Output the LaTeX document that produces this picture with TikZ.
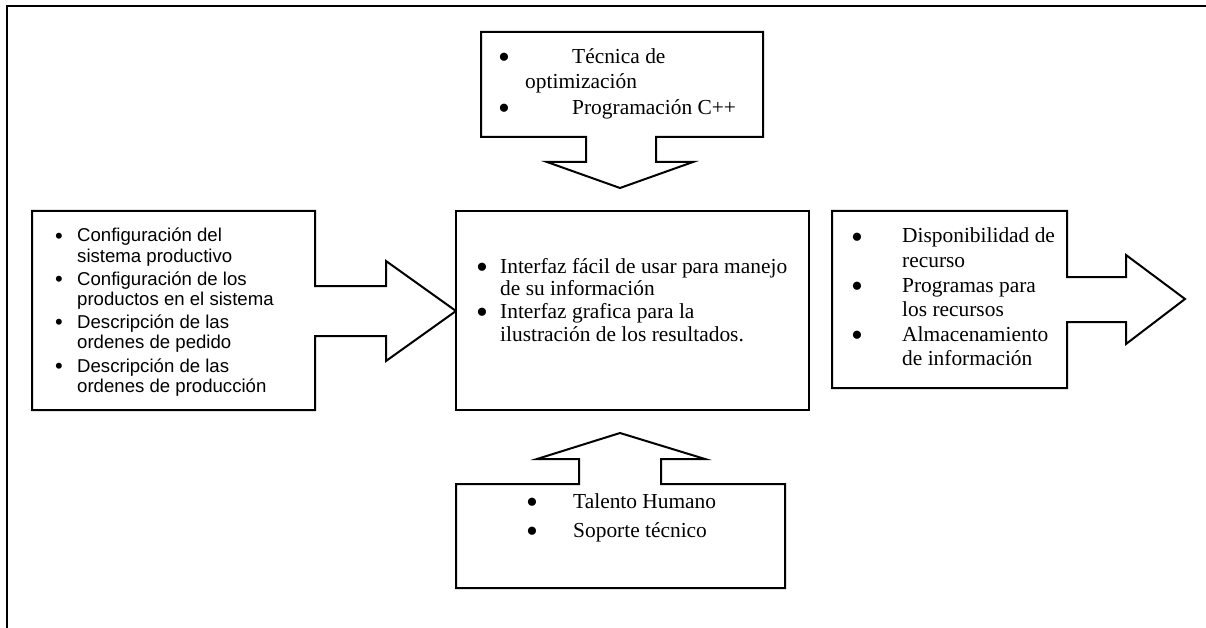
\documentclass[tikz,border=0pt]{standalone}
\usepackage{fontspec}
\setmainfont{Liberation Serif}
\newfontfamily\arialf{Liberation Sans}
\begin{document}
\begin{tikzpicture}[x=1pt,y=-1pt,
  blockshape/.style={draw=black,line width=2pt,line join=miter,fill=white},
  tm/.style={anchor=base west,inner sep=0pt,font=\fontsize{21.4}{24}\selectfont},
  ar/.style={anchor=base west,inner sep=0pt,font=\arialf\fontsize{18.6}{21}\selectfont},
  tmb/.style={anchor=base west,inner sep=0pt,font=\fontsize{34}{34}\selectfont,yshift=-5pt},
  arb/.style={anchor=base west,inner sep=0pt,font=\arialf\fontsize{22}{22}\selectfont,yshift=-1.5pt}]
\useasboundingbox (0,0) rectangle (1206,628);
% outer frame
\draw[line width=2.8pt] (7,629) -- (7,6) -- (1206,6);
% top box with down arrow
\draw[blockshape] (481,32) -- (763,32) -- (763,137) -- (656,137) -- (656,162) -- (693,162)
  -- (620,188) -- (547,162) -- (586,162) -- (586,137) -- (481,137) -- cycle;
% left box with right arrow
\draw[blockshape] (32,211) -- (315,211) -- (315,286) -- (386,286) -- (386,261) -- (456,311)
  -- (386,361) -- (386,336) -- (315,336) -- (315,410) -- (32,410) -- cycle;
% center box
\draw[blockshape] (456,211) rectangle (809,410);
% right box with right arrow
\draw[blockshape] (832,211) -- (1067,211) -- (1067,277) -- (1126,277) -- (1126,255) -- (1185,299)
  -- (1126,344) -- (1126,322) -- (1067,322) -- (1067,388) -- (832,388) -- cycle;
% bottom box with up arrow
\draw[blockshape] (456,484) -- (579,484) -- (579,459) -- (537,459) -- (620,433) -- (705,459)
  -- (661,459) -- (661,484) -- (785,484) -- (785,588) -- (456,588) -- cycle;
% top texts
\node[tmb] (tb1) at (498,64) {•};
\node[tm] (tt1) at (572,64) {Técnica de};
\node[tm] (tt2) at (525,88.5) {optimización};
\node[tmb] (tb2) at (498,115) {•};
\node[tm] (tt3) at (572,115) {Programación C++};
% left texts
\node[arb] (lb1) at (55,242) {•};
\node[ar] (lt1) at (77,242) {Configuración del};
\node[ar] (lt2) at (77,262) {sistema productivo};
\node[arb] (lb2) at (55,285) {•};
\node[ar] (lt3) at (77,285) {Configuración de los};
\node[ar] (lt4) at (77,305) {productos en el sistema};
\node[arb] (lb3) at (55,328) {•};
\node[ar] (lt5) at (77,328) {Descripción de las};
\node[ar] (lt6) at (77,348) {ordenes de pedido};
\node[arb] (lb4) at (55,372) {•};
\node[ar] (lt7) at (77,372) {Descripción de las};
\node[ar] (lt8) at (77,392) {ordenes de producción};
% center texts
\node[tmb] (cb1) at (476,273) {•};
\node[tm] (ct1) at (500,273) {Interfaz fácil de usar para manejo};
\node[tm] (ct2) at (500,295.5) {de su información};
\node[tmb] (cb2) at (476,318) {•};
\node[tm] (ct3) at (500,318) {Interfaz grafica para la};
\node[tm] (ct4) at (500,341) {ilustración de los resultados.};
% right texts
\node[tmb] (rb1) at (851,243) {•};
\node[tm] (rt1) at (902,243) {Disponibilidad de};
\node[tm] (rt2) at (902,267.5) {recurso};
\node[tmb] (rb2) at (851,292) {•};
\node[tm] (rt3) at (902,292) {Programas para};
\node[tm] (rt4) at (902,316.5) {los recursos};
\node[tmb] (rb3) at (851,341) {•};
\node[tm] (rt5) at (902,341) {Almacenamiento};
\node[tm] (rt6) at (902,365.5) {de información};
% bottom texts
\node[tmb] (bb1) at (526,508) {•};
\node[tm] (bt1) at (573,508) {Talento Humano};
\node[tmb] (bb2) at (526,537) {•};
\node[tm] (bt2) at (573,537) {Soporte técnico};
\end{tikzpicture}
\end{document}
